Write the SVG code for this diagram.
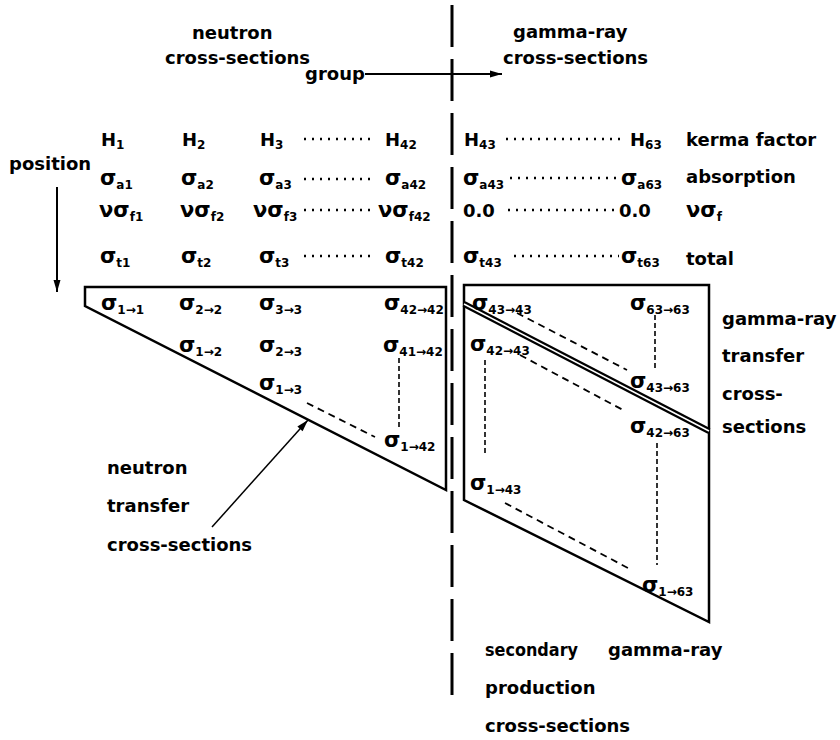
<svg xmlns="http://www.w3.org/2000/svg" width="840" height="740" viewBox="0 0 840 740">
<defs>
<style>
.t{font-family:"DejaVu Sans","Liberation Sans",sans-serif;font-weight:bold;font-size:18px;fill:#000}
.g{font-size:21px}
.sub{font-size:12px}
.ln{stroke:#000;stroke-width:2.5;fill:none;stroke-linejoin:miter}
.dots{stroke:#000;stroke-width:2.5;stroke-dasharray:2 6;fill:none}
.dash{stroke:#000;stroke-width:1.8;stroke-dasharray:7 5;fill:none}
.vdash{stroke:#000;stroke-width:1.6;stroke-dasharray:5 3;fill:none}
.arr{stroke:#000;stroke-width:2;fill:none}
</style>
<marker id="ah" viewBox="0 0 12 8" refX="12" refY="4" markerWidth="13" markerHeight="8" orient="auto" markerUnits="userSpaceOnUse">
<path d="M0,0.5 L12,4 L0,7.5 z" fill="#000"/>
</marker>
</defs>
<rect width="840" height="740" fill="#fff"/>

<g id="headers">
<text class="t" x="192" y="39">neutron</text>
<text class="t" x="165" y="64">cross-sections</text>
<text class="t" x="513" y="38">gamma-ray</text>
<text class="t" x="503" y="64">cross-sections</text>
<text class="t" x="305" y="80">group</text>
<text class="t" x="9" y="170">position</text>
</g>

<g id="row-kerma">
<text class="t" x="101" y="146">H<tspan class="sub" dy="3">1</tspan></text>
<text class="t" x="182" y="146">H<tspan class="sub" dy="3">2</tspan></text>
<text class="t" x="260" y="146">H<tspan class="sub" dy="3">3</tspan></text>
<text class="t" x="385" y="146">H<tspan class="sub" dy="3">42</tspan></text>
<text class="t" x="464" y="146">H<tspan class="sub" dy="3">43</tspan></text>
<text class="t" x="630" y="146">H<tspan class="sub" dy="3">63</tspan></text>
<text class="t" x="686" y="146">kerma factor</text>
</g>

<g id="row-absorption">
<text class="t g" x="100" y="185">σ<tspan class="sub" dy="4">a1</tspan></text>
<text class="t g" x="181" y="185">σ<tspan class="sub" dy="4">a2</tspan></text>
<text class="t g" x="259" y="185">σ<tspan class="sub" dy="4">a3</tspan></text>
<text class="t g" x="385" y="185">σ<tspan class="sub" dy="4">a42</tspan></text>
<text class="t g" x="463" y="185">σ<tspan class="sub" dy="4">a43</tspan></text>
<text class="t g" x="621" y="185">σ<tspan class="sub" dy="4">a63</tspan></text>
<text class="t" x="686" y="183">absorption</text>
</g>

<g id="row-fission">
<text class="t g" x="99" y="217">νσ<tspan class="sub" dy="4">f1</tspan></text>
<text class="t g" x="180" y="217">νσ<tspan class="sub" dy="4">f2</tspan></text>
<text class="t g" x="253" y="217">νσ<tspan class="sub" dy="4">f3</tspan></text>
<text class="t g" x="378" y="217">νσ<tspan class="sub" dy="4">f42</tspan></text>
<text class="t" x="463" y="217">0.0</text>
<text class="t" x="619" y="217">0.0</text>
<text class="t g" x="686" y="217">νσ<tspan class="sub" dy="4">f</tspan></text>
</g>

<g id="row-total">
<text class="t g" x="100" y="263">σ<tspan class="sub" dy="4">t1</tspan></text>
<text class="t g" x="181" y="263">σ<tspan class="sub" dy="4">t2</tspan></text>
<text class="t g" x="259" y="263">σ<tspan class="sub" dy="4">t3</tspan></text>
<text class="t g" x="385" y="263">σ<tspan class="sub" dy="4">t42</tspan></text>
<text class="t g" x="463" y="263">σ<tspan class="sub" dy="4">t43</tspan></text>
<text class="t g" x="621" y="263">σ<tspan class="sub" dy="4">t63</tspan></text>
<text class="t" x="686" y="265">total</text>
</g>

<g id="neutron-transfer">
<path class="ln" d="M85,287 L446,287 L446,490 L85,306 Z"/>
<text class="t g" x="101" y="310">σ<tspan class="sub" dy="4">1→1</tspan></text>
<text class="t g" x="179" y="310">σ<tspan class="sub" dy="4">2→2</tspan></text>
<text class="t g" x="259" y="310">σ<tspan class="sub" dy="4">3→3</tspan></text>
<text class="t g" x="384" y="310">σ<tspan class="sub" dy="4">42→42</tspan></text>
<text class="t g" x="179" y="352">σ<tspan class="sub" dy="4">1→2</tspan></text>
<text class="t g" x="259" y="352">σ<tspan class="sub" dy="4">2→3</tspan></text>
<text class="t g" x="383" y="352">σ<tspan class="sub" dy="4">41→42</tspan></text>
<text class="t g" x="259" y="390">σ<tspan class="sub" dy="4">1→3</tspan></text>
<text class="t g" x="384" y="447">σ<tspan class="sub" dy="4">1→42</tspan></text>
</g>

<g id="gamma-block">
<path class="ln" d="M464,285 L709,285 L709,622 L464,500 Z"/>
<line x1="464" y1="304" x2="709" y2="431" stroke="#000" stroke-width="6"/>
<line x1="464" y1="304" x2="709" y2="431" stroke="#fff" stroke-width="1.5"/>
<text class="t g" x="472" y="310">σ<tspan class="sub" dy="4">43→43</tspan></text>
<text class="t g" x="630" y="310">σ<tspan class="sub" dy="4">63→63</tspan></text>
<text class="t g" x="470" y="351">σ<tspan class="sub" dy="4">42→43</tspan></text>
<text class="t g" x="630" y="388">σ<tspan class="sub" dy="4">43→63</tspan></text>
<text class="t g" x="630" y="433">σ<tspan class="sub" dy="4">42→63</tspan></text>
<text class="t g" x="470" y="490">σ<tspan class="sub" dy="4">1→43</tspan></text>
<text class="t g" x="642" y="592">σ<tspan class="sub" dy="4">1→63</tspan></text>
</g>

<g id="label-gamma-transfer">
<text class="t" x="722" y="325">gamma-ray</text>
<text class="t" x="722" y="362">transfer</text>
<text class="t" x="722" y="400">cross-</text>
<text class="t" x="722" y="433">sections</text>
</g>

<g id="label-neutron-transfer">
<text class="t" x="107" y="474">neutron</text>
<text class="t" x="107" y="512">transfer</text>
<text class="t" x="107" y="551">cross-sections</text>
</g>

<g id="label-secondary">
<text class="t" x="485" y="656" textLength="93" lengthAdjust="spacingAndGlyphs">secondary</text>
<text class="t" x="608" y="656">gamma-ray</text>
<text class="t" x="485" y="694">production</text>
<text class="t" x="485" y="732">cross-sections</text>
</g>

<g id="connectors">
<line x1="452" y1="5" x2="452" y2="700" stroke="#000" stroke-width="3" stroke-dasharray="42 12"/>
<line class="arr" x1="365" y1="74" x2="502" y2="74" marker-end="url(#ah)"/>
<line class="arr" x1="57" y1="187" x2="57" y2="292" marker-end="url(#ah)"/>
<line x1="212" y1="527" x2="308" y2="420" stroke="#000" stroke-width="1.5" marker-end="url(#ah)"/>
<line class="dots" x1="304" y1="139" x2="375" y2="139"/>
<line class="dots" x1="506" y1="139" x2="624" y2="139"/>
<line class="dots" x1="304" y1="179" x2="375" y2="179"/>
<line class="dots" x1="510" y1="178" x2="619" y2="178"/>
<line class="dots" x1="304" y1="210" x2="375" y2="210"/>
<line class="dots" x1="508" y1="210" x2="617" y2="210"/>
<line class="dots" x1="304" y1="256" x2="375" y2="256"/>
<line class="dots" x1="514" y1="256" x2="619" y2="256"/>
<line class="dash" x1="307" y1="403" x2="375" y2="437"/>
<line class="vdash" x1="399" y1="358" x2="399" y2="427"/>
<line class="dash" x1="517" y1="313" x2="627" y2="370"/>
<line class="dash" x1="520" y1="355" x2="623" y2="410"/>
<line class="dash" x1="505" y1="503" x2="628" y2="568"/>
<line class="vdash" x1="655" y1="315" x2="655" y2="370"/>
<line class="vdash" x1="485" y1="360" x2="485" y2="453"/>
<line class="vdash" x1="657" y1="443" x2="657" y2="565"/>
</g>
</svg>
